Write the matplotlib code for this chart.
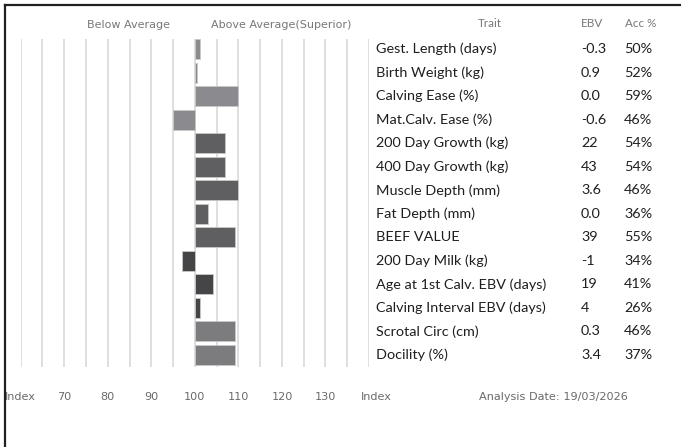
import matplotlib
matplotlib.use("Agg")
import matplotlib.pyplot as plt
from matplotlib.lines import Line2D

traits = ["Gest. Length (days)", "Birth Weight (kg)", "Calving Ease (%)",
          "Mat.Calv. Ease (%)", "200 Day Growth (kg)", "400 Day Growth (kg)",
          "Muscle Depth (mm)", "Fat Depth (mm)", "BEEF VALUE", "200 Day Milk (kg)",
          "Age at 1st Calv. EBV (days)", "Calving Interval EBV (days)",
          "Scrotal Circ (cm)", "Docility (%)"]
ebv = ["-0.3", "0.9", "0.0", "-0.6", "22", "43", "3.6", "0.0", "39", "-1",
       "19", "4", "0.3", "3.4"]
acc = ["50%", "52%", "59%", "46%", "54%", "54%", "46%", "36%", "55%", "34%",
       "41%", "26%", "46%", "37%"]
index_vals = [101.2, 100.4, 110, 95, 107, 107, 110, 103, 109.2, 97, 104.1, 101.2,
              109.2, 109.2]
bar_colors = ["#8b8b8f"] * 4 + ["#5f5f61"] * 5 + ["#454547"] * 3 + ["#7c7c7f"] * 2
tick_vals = [70, 80, 90, 100, 110, 120, 130]
grid_vals = list(range(60, 145, 5))

W, H = 681, 447
fig = plt.figure(figsize=(W / 100, H / 100), dpi=100)


def fx(px):
    return px / W


def fy(py):
    return 1 - py / H


# frame lines (top and left)
fig.add_artist(Line2D([fx(5), fx(5)], [fy(5), fy(447)], color="#231f20", lw=1.6))
fig.add_artist(Line2D([fx(5), 1], [fy(5), fy(5)], color="#231f20", lw=1.6))

ax_l, ax_r = 20.7, 369.0
ax_t, ax_b = 39.0, 367.0
ax = fig.add_axes([fx(ax_l), fy(ax_b), (ax_r - ax_l) / W, (ax_b - ax_t) / H])
ax.set_xlim(60, 140)
ax.set_ylim(13.52, -0.434)
ax.axis("off")
for g in grid_vals:
    ax.axvline(g, color="#dcdcdc", lw=1.3, zorder=0)

ys = list(range(len(traits)))
ax.barh(ys, [v - 100 for v in index_vals], left=100, height=0.864,
        color=bar_colors, edgecolor="#c8c8c8", linewidth=0.6, zorder=2)

# bottom tick labels (data x)
tfont = dict(family="DejaVu Sans", color="#6a6a6a", fontsize=8.1)
ylab = 13.52 + (397 - ax_b) / 23.5
for t in tick_vals:
    ax.text(t, ylab, str(t), ha="center", va="center", clip_on=False, **tfont)
ax.text(60, ylab, "Index", ha="center", va="center", clip_on=False, **tfont)
ax.text(141.6, ylab, "Index", ha="center", va="center", clip_on=False, **tfont)
fig.text(fx(553), fy(397), "Analysis Date: 19/03/2026", ha="center", va="center",
         **tfont)

# header labels
hfont = dict(family="DejaVu Sans", color="#777777", fontsize=8.0)
fig.text(fx(128.5), fy(25), "Below Average", ha="center", va="center", **hfont)
fig.text(fx(281), fy(25), "Above Average(Superior)", ha="center", va="center", **hfont)
h2font = dict(family="Lato", color="#777777", fontsize=8.4)
fig.text(fx(490), fy(23.5), "Trait", ha="center", va="center", **h2font)
fig.text(fx(591.5), fy(23.5), "EBV", ha="center", va="center", **h2font)
fig.text(fx(641), fy(23.5), "Acc %", ha="center", va="center", **h2font)

# table rows
rfont = dict(family="Lato", color="#1e1e1e", fontsize=10.4)
for i, (tr, e, a) in enumerate(zip(traits, ebv, acc)):
    ax.text(141.6, i, tr, ha="left", va="center", clip_on=False, **rfont)
    ax.text(188.7, i, e, ha="left", va="center", clip_on=False, **rfont)
    ax.text(198.6, i, a, ha="left", va="center", clip_on=False, **rfont)

fig.savefig("out.png", dpi=100)
